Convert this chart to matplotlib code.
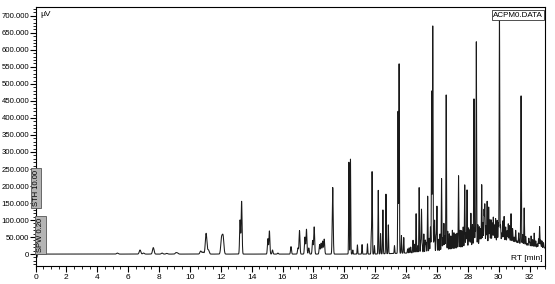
import numpy as np
import matplotlib
matplotlib.use("Agg")
import matplotlib.pyplot as plt
from matplotlib.ticker import MultipleLocator, FuncFormatter

plt.rcParams.update({
    "font.family": ["Liberation Sans", "DejaVu Sans"],
    "font.size": 6,
    "xtick.labelsize": 6,
    "ytick.labelsize": 5.6,
})

# ---- data (rt in min, height above baseline in kilo-µV) ----
peak_rt = [
    5.3, 6.77, 7.0, 7.63, 8.2, 8.5, 9.1, 9.2, 10.7, 10.85, 11.05, 11.2,
    12.05, 12.15, 13.25, 13.35, 15.05, 15.15, 15.35, 15.7, 16.55, 17.0,
    17.1, 17.45, 17.55, 17.7, 17.95, 18.05, 18.4, 18.5, 18.6, 18.7, 19.25,
    20.3, 20.4, 20.55, 20.85, 21.15, 21.5, 21.75, 21.8, 21.95, 22.2, 22.35,
    22.5, 22.7, 22.85, 23.25, 23.48, 23.55, 23.7, 23.85, 24.3, 24.45, 24.65,
    24.85, 25.0, 25.15, 25.4, 25.58, 25.66, 25.73, 25.85, 26.0, 26.3, 26.45,
    26.6, 26.8, 27.0, 27.2, 27.4, 27.6, 27.8, 27.95, 28.2, 28.4, 28.55,
    28.75, 28.9, 29.05, 29.1, 29.25, 29.35, 29.5, 29.65, 29.8, 30.05, 30.2,
    30.35, 30.55, 30.8, 31.0, 31.2, 31.45, 31.65, 31.85, 32.0, 32.3, 32.5,
    32.65, 32.8,
]
peak_h = [
    3, 12, 3, 19, 3, 2, 4, 3, 9, 6, 61, 12,
    45, 50, 100, 155, 45, 68, 12, 3, 22, 18,
    69, 50, 73, 18, 40, 80, 28, 32, 38, 44, 196,
    270, 279, 12, 27, 28, 30, 60, 241, 25, 187, 60,
    129, 175, 85, 23, 417, 560, 52, 46, 17, 37, 115,
    192, 126, 54, 164, 73, 472, 667, 92, 132, 212, 80,
    456, 47, 56, 43, 213, 50, 183, 168, 96, 430, 600,
    51, 173, 97, 113, 122, 104, 65, 72, 66, 665, 22,
    71, 30, 81, 14, 5, 437, 108, 5, 12, 40, 10,
    62, 20,
]

# dense small peaks forming the noisy band after 24 min
grass_rt = [
    24.1, 24.2, 24.55, 24.75, 24.95, 25.05, 25.25, 25.3, 25.5, 25.8, 25.95,
    26.1, 26.2, 26.38, 26.52, 26.7, 26.9, 27.1, 27.3, 27.5, 27.7, 27.88,
    28.05, 28.12, 28.3, 28.48, 28.65, 28.82, 28.98, 29.18, 29.42, 29.58,
    29.72, 29.9, 29.98, 30.12, 30.27, 30.45, 30.62, 30.7, 30.9, 31.1, 31.3,
    31.55, 31.75, 31.95, 32.1, 32.2, 32.4, 32.58, 32.72, 32.9,
]
grass_h = [
    12, 15, 25, 20, 30, 22, 35, 28, 40, 30, 45,
    35, 50, 38, 42, 55, 40, 48, 45, 52, 60, 42,
    55, 48, 62, 50, 58, 45, 60, 50, 65, 55,
    48, 60, 52, 45, 58, 40, 50, 45, 38, 35, 30,
    28, 25, 22, 30, 20, 18, 25, 22, 15,
]

# baseline drift (rt, kilo-µV), including injection spike at start
base_rt = [0.0, 0.03, 0.05, 0.08, 0.12, 22.0, 24.0, 25.0, 26.0, 27.0, 28.0,
           29.0, 30.0, 30.5, 31.0, 31.5, 32.0, 32.5, 33.0]
base_lv = [0, -18, 16, -10, 0, 0, 3, 5, 8, 14, 22,
           32, 40, 40, 36, 30, 24, 20, 18]

# ---- build trace ----
rt = np.arange(0, 33.0005, 0.004)
signal = np.interp(rt, base_rt, base_lv)
for p, h in zip(peak_rt + grass_rt, peak_h + grass_h):
    if p < 13:
        s = 0.05
    elif p < 20:
        s = 0.03
    else:
        s = 0.018
    signal = signal + h * np.exp(-0.5 * ((rt - p) / s) ** 2)
signal = signal * 1000

fig = plt.figure(figsize=(5.55, 2.84), dpi=100)
ax = fig.add_axes([35.5 / 555, 18 / 284, 509.5 / 555, 259 / 284])

ax.plot(rt, signal, color="#1a1a1a", linewidth=0.75)

ax.set_xlim(0, 33.0)
ax.set_ylim(-35000, 726000)

ax.xaxis.set_major_locator(MultipleLocator(2))
ax.xaxis.set_minor_locator(MultipleLocator(0.5))
ax.yaxis.set_minor_locator(MultipleLocator(10000))
ax.set_yticks(np.arange(0, 700001, 50000))
ax.yaxis.set_major_formatter(FuncFormatter(
    lambda v, pos: "0" if abs(v) < 1 else f"{v / 1000:.3f}"))
ax.tick_params(which="major", length=4, width=0.8)
ax.tick_params(axis="y", which="major", pad=0.5)
ax.tick_params(axis="x", which="major", pad=1.5)
ax.tick_params(which="minor", length=2, width=0.6)
for sp in ax.spines.values():
    sp.set_linewidth(0.8)

ax.text(0.009, 0.985, "µV", transform=ax.transAxes, ha="left", va="top", fontsize=6)
ax.text(0.996, 0.03, "RT [min]", transform=ax.transAxes, ha="right", va="center", fontsize=6)
ax.text(0.996, 0.982, "ACPM0.DATA", transform=ax.transAxes, ha="right", va="top",
        fontsize=5.8, zorder=5,
        bbox=dict(boxstyle="square,pad=0.15", facecolor="white", edgecolor="#333333", linewidth=0.6))

# parameter flags on the left edge
fig.text(36 / 555, 1 - 188 / 284, "STH 10.00", rotation=90, ha="center", va="center",
         fontsize=5.5, zorder=10,
         bbox=dict(boxstyle="square,pad=0.25", facecolor="#b4b4b4", edgecolor="#555555", linewidth=0.6))
fig.text(40.7 / 555, 1 - 235 / 284, "SPW 0.20", rotation=90, ha="center", va="center",
         fontsize=5.5, zorder=10,
         bbox=dict(boxstyle="square,pad=0.25", facecolor="#b4b4b4", edgecolor="#555555", linewidth=0.6))

fig.savefig("out.png", dpi=100)
